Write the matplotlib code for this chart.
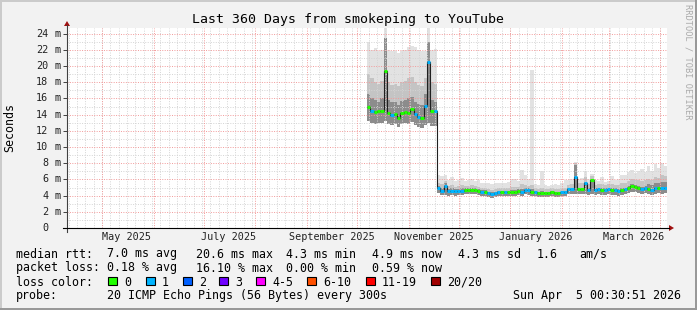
import matplotlib
matplotlib.use("Agg")
import matplotlib.pyplot as plt
import matplotlib.dates as mdates
import matplotlib.transforms as mtransforms
from matplotlib.patches import Rectangle, Polygon
import pandas as pd

plt.rcParams['font.family'] = ['DejaVu Sans Mono']

# time frame of the graph (last 360 days)
graph_start = pd.Timestamp("2025-04-10 00:30:51")
graph_end = pd.Timestamp("2026-04-05 00:30:51")
data_start = pd.Timestamp("2025-10-07")  # first sample, one every 2 days

# median rtt in ms
median = [15.0, 14.5, 14.3, 14.4, 14.5, 19.4, 14.2, 14.0, 14.1, 13.6,
          14.2, 14.3, 14.2, 14.7, 14.1, 13.7, 13.6, 15.1, 20.5, 14.4,
          14.4, 4.9, 4.6, 5.2, 4.6, 4.6, 4.6, 4.6, 4.6, 4.7,
          4.7, 4.7, 4.7, 4.6, 4.5, 4.5, 4.3, 4.2, 4.3, 4.4,
          4.4, 4.4, 4.4, 4.5, 4.5, 4.6, 4.5, 4.7, 4.7, 4.5,
          4.4, 4.3, 4.3, 4.3, 4.3, 4.4, 4.3, 4.3, 4.4, 4.4,
          4.8, 4.8, 6.3, 4.8, 4.8, 5.5, 4.7, 5.9, 4.7, 4.8,
          4.7, 4.7, 4.8, 4.7, 4.7, 4.6, 4.7, 4.8, 5.0, 5.2,
          5.1, 5.0, 4.8, 4.9, 4.8, 4.7, 4.9, 5.0, 4.9, 5.0,
          4.9]
# lost pings (out of 20) per sample
loss = [0, 1, 0, 0, 0, 0, 0, 1, 0, 0,
        0, 0, 0, 0, 1, 1, 0, 1, 1, 0,
        1, 1, 1, 1, 1, 1, 1, 1, 1, 0,
        0, 0, 0, 0, 1, 0, 1, 1, 1, 1,
        0, 1, 0, 0, 0, 0, 1, 1, 1, 0,
        1, 0, 0, 0, 0, 0, 0, 0, 1, 1,
        1, 1, 1, 0, 0, 1, 1, 0, 1, 1,
        0, 1, 1, 0, 1, 1, 0, 1, 0, 0,
        0, 0, 1, 1, 0, 1, 1, 0, 1, 1,
        1]
# smoke: lowest ping, top of dark band, top of mid band, highest ping (ms)
smoke_lo = [13.2, 13.0, 12.9, 13.0, 13.0, 13.2, 12.8, 12.7, 12.8, 12.5,
            12.9, 13.0, 12.9, 13.1, 12.7, 12.5, 12.4, 12.7, 13.0, 12.6,
            12.6, 4.3, 4.1, 4.1, 4.0, 4.1, 4.0, 4.1, 4.1, 4.2,
            4.2, 4.2, 4.2, 4.1, 4.0, 4.0, 3.8, 3.7, 3.8, 3.9,
            3.9, 3.9, 3.9, 4.0, 4.0, 4.1, 4.0, 4.2, 4.1, 4.0,
            3.9, 3.8, 3.8, 3.8, 3.8, 3.9, 3.8, 3.8, 3.9, 3.9,
            4.2, 4.2, 4.2, 4.2, 4.2, 4.2, 4.1, 4.2, 4.1, 4.2,
            4.1, 4.1, 4.2, 4.1, 4.1, 4.0, 4.1, 4.2, 4.3, 4.4,
            4.4, 4.3, 4.2, 4.3, 4.2, 4.1, 4.2, 4.3, 4.2, 4.3,
            4.2]
smoke_dark = [16.5, 16.0, 15.8, 15.6, 16.0, 23.5, 15.8, 15.5, 15.6, 15.2,
              15.7, 15.8, 16.0, 16.2, 15.6, 15.3, 15.2, 16.5, 23.0, 15.8,
              15.6, 5.2, 4.9, 5.5, 4.8, 4.9, 4.8, 4.8, 4.9, 4.9,
              4.9, 4.9, 4.9, 4.8, 4.7, 4.7, 4.5, 4.4, 4.5, 4.6,
              4.6, 4.6, 4.6, 4.7, 4.7, 4.8, 4.8, 4.9, 4.9, 4.8,
              4.6, 4.5, 4.6, 4.5, 4.5, 4.6, 4.5, 4.5, 4.6, 4.6,
              5.0, 5.0, 7.8, 5.0, 5.0, 5.7, 4.9, 6.0, 4.9, 5.0,
              4.9, 4.9, 5.0, 4.9, 4.9, 4.8, 4.9, 5.0, 5.2, 5.4,
              5.3, 5.2, 5.1, 5.2, 5.4, 5.3, 5.6, 5.6, 5.7, 5.7,
              5.6]
smoke_mid = [19.0, 18.5, 18.0, 17.8, 18.2, 21.5, 18.0, 17.6, 17.8, 17.5,
             18.0, 18.2, 18.5, 18.7, 18.0, 17.6, 17.5, 18.5, 22.0, 18.0,
             17.8, 5.6, 5.4, 5.8, 5.2, 5.3, 5.1, 5.2, 5.3, 5.2,
             5.2, 5.3, 5.2, 5.1, 5.0, 4.9, 4.8, 4.7, 4.8, 4.9,
             4.9, 4.9, 5.0, 5.1, 5.1, 5.1, 5.4, 5.3, 5.2, 5.3,
             4.9, 4.8, 5.0, 4.8, 4.8, 4.9, 4.8, 4.8, 4.9, 5.0,
             5.3, 5.4, 8.0, 5.5, 5.5, 6.3, 5.4, 6.4, 5.3, 5.4,
             5.4, 5.3, 5.4, 5.4, 5.3, 5.3, 5.5, 5.6, 5.8, 6.0,
             5.9, 5.9, 5.8, 5.9, 6.1, 5.9, 6.3, 6.2, 6.5, 6.4,
             6.5]
smoke_hi = [23.0, 22.0, 22.2, 21.9, 22.0, 24.7, 22.0, 21.8, 21.8, 21.6,
            21.9, 22.0, 22.4, 22.5, 22.3, 22.0, 21.9, 21.8, 24.7, 22.0,
            22.1, 6.5, 6.4, 6.5, 5.9, 6.3, 5.8, 5.9, 6.2, 5.8,
            5.9, 6.0, 5.8, 5.9, 5.6, 5.5, 5.5, 5.4, 5.6, 5.5,
            5.5, 5.6, 5.7, 6.0, 6.0, 5.8, 7.2, 6.6, 6.0, 19.5,
            5.4, 5.3, 7.0, 5.3, 5.2, 5.3, 5.4, 5.3, 5.5, 5.9,
            5.9, 6.0, 8.2, 6.1, 6.2, 7.0, 6.1, 6.7, 5.9, 5.8,
            6.3, 5.7, 5.8, 6.4, 5.9, 6.0, 6.6, 6.5, 6.9, 7.2,
            6.8, 7.0, 7.3, 6.9, 7.6, 7.0, 7.9, 7.4, 8.0, 7.7,
            8.0]

loss_legend = ["0", "1", "2", "3", "4-5", "6-10", "11-19", "20/20"]
loss_colors = ["#20ff00", "#00b4ff", "#0060ff", "#7000ff",
               "#ff00ff", "#ff5000", "#ff0000", "#a00000"]

month_labels = ["2025-05-16", "2025-07-16", "2025-09-16",
                "2025-11-16", "2026-01-16", "2026-03-16"]
y_ticks = list(range(0, 25, 2))

stats_rtt = ["7.0 ms avg", "20.6 ms max", "4.3 ms min", "4.9 ms now",
             "4.3 ms sd", "1.6", "am/s"]
stats_loss = ["0.18 % avg", "16.10 % max", "0.00 % min", "0.59 % now"]

W, H = 697, 310
BG = "#f2f2f2"
fig = plt.figure(figsize=(W / 100, H / 100), dpi=100, facecolor=BG)

ax = fig.add_axes([67 / W, 82 / H, 600 / W, 200 / H])
ax.set_facecolor("white")
for s in ax.spines.values():
    s.set_visible(False)
ax.set_xlim(mdates.date2num(graph_start), mdates.date2num(graph_end))
ax.set_ylim(0, 24.7)

times = pd.date_range(data_start, periods=len(median) + 1, freq="2D")
edges = mdates.date2num(times)

# smoke
ax.stairs(smoke_hi, edges, baseline=smoke_lo, fill=True, color="#e2e2e2", lw=0, zorder=1)
ax.stairs(smoke_mid, edges, baseline=smoke_lo, fill=True, color="#c4c4c4", lw=0, zorder=2)
ax.stairs(smoke_dark, edges, baseline=smoke_lo, fill=True, color="#8c8c8c", lw=0, zorder=3)

# grid
grid_dots = (0, (1, 1.5))
for d in pd.date_range("2025-04-11", graph_end, freq="5D"):
    ax.axvline(mdates.date2num(d), color="#d4d4d4", lw=0.7, ls=grid_dots, zorder=4)
for v in range(1, 25, 2):
    ax.axhline(v, color="#d4d4d4", lw=0.7, ls=grid_dots, zorder=4)
for d in pd.date_range("2025-05-01", graph_end, freq="MS"):
    ax.axvline(mdates.date2num(d), color="#f29a9a", lw=0.7, ls=grid_dots, zorder=4)
for v in range(2, 25, 2):
    ax.axhline(v, color="#f29a9a", lw=0.7, ls=grid_dots, zorder=4)

# median line coloured by loss
ax.stairs(median, edges, baseline=None, color="#202020", lw=0.8, zorder=5)
ax.hlines(median, edges[:-1], edges[1:], colors=[loss_colors[n] for n in loss],
          lw=2.2, zorder=6)

ax.set_xticks([])
ax.set_yticks(y_ticks)
ax.set_yticklabels([])
ax.tick_params(axis="y", length=3, width=0.7, color="#404040", direction="out")

# axis labels
ylab_tr = mtransforms.blended_transform_factory(ax.transAxes, ax.transData)
for v in y_ticks:
    ax.text((48.5 - 67) / 600, v, str(v), transform=ylab_tr, ha="right",
            va="center", fontsize=7.3, color="#222222")
    if v:
        ax.text((54.3 - 67) / 600, v, "m", transform=ylab_tr, ha="left",
                va="center", fontsize=7.3, color="#222222")
xlab_tr = mtransforms.blended_transform_factory(ax.transData, ax.transAxes)
for m in month_labels:
    d = pd.Timestamp(m)
    ax.text(mdates.date2num(d), -9.5 / 200, d.strftime("%B %Y"), transform=xlab_tr,
            ha="center", va="center", fontsize=7.3, color="#222222")

# overlay in pixel coordinates
ov = fig.add_axes([0, 0, 1, 1], zorder=10)
ov.set_xlim(0, W)
ov.set_ylim(H, 0)
ov.axis("off")
ov.patch.set_alpha(0)

ov.add_patch(Rectangle((0, 0), W, 2, color="#cbcbcb", lw=0))
ov.add_patch(Rectangle((0, 0), 2, H, color="#cbcbcb", lw=0))
ov.add_patch(Rectangle((0, H - 2), W, 2, color="#999999", lw=0))
ov.add_patch(Rectangle((W - 2, 0), 2, H, color="#999999", lw=0))

ov.plot([67, 67], [232, 25], color="#404040", lw=0.8)
ov.plot([63, 669], [228, 228], color="#000000", lw=0.8)
ov.add_patch(Polygon([(64, 26), (70, 26), (67, 21)], closed=True, color="#a01010", lw=0))
ov.add_patch(Polygon([(669, 225), (669, 231), (674, 228)], closed=True, color="#a01010", lw=0))

ov.text(348, 20, "Last 360 Days from smokeping to YouTube", ha="center", va="center",
        fontsize=9.5, color="#000000")
ov.text(9.5, 128, "Seconds", rotation=90, ha="center", va="center", fontsize=8.4)
ov.text(688, 62, "RRDTOOL / TOBI OETIKER", rotation=270, ha="center", va="center",
        fontsize=6.2, color="#aaaaaa")

fs = 8.4
row_y = [254, 268, 282, 296]
ov.text(16, row_y[0], "median rtt:", ha="left", va="center", fontsize=fs)
for x, s in zip([107, 196, 286, 372, 458, 537, 579], stats_rtt):
    ov.text(x, row_y[0], s, ha="left", va="center", fontsize=fs)
ov.text(16, row_y[1], "packet loss:", ha="left", va="center", fontsize=fs)
for x, s in zip([107, 196, 286, 372], stats_loss):
    ov.text(x, row_y[1], s, ha="left", va="center", fontsize=fs)
ov.text(16, row_y[2], "loss color:", ha="left", va="center", fontsize=fs)
for x, s, c in zip([108, 146, 183, 219, 256, 307, 366, 431], loss_legend, loss_colors):
    ov.add_patch(Rectangle((x, 276.5), 8.5, 8.5, facecolor=c, edgecolor="black", lw=0.8))
    ov.text(x + 16, row_y[2], s, ha="left", va="center", fontsize=fs)
ov.text(16, row_y[3], "probe:", ha="left", va="center", fontsize=fs)
ov.text(107, row_y[3], "20 ICMP Echo Pings (56 Bytes) every 300s", ha="left",
        va="center", fontsize=fs)
ov.text(681, row_y[3], graph_end.strftime("%a %b %e %H:%M:%S %Y"), ha="right",
        va="center", fontsize=fs)

fig.savefig("out.png", dpi=100, facecolor=BG)
